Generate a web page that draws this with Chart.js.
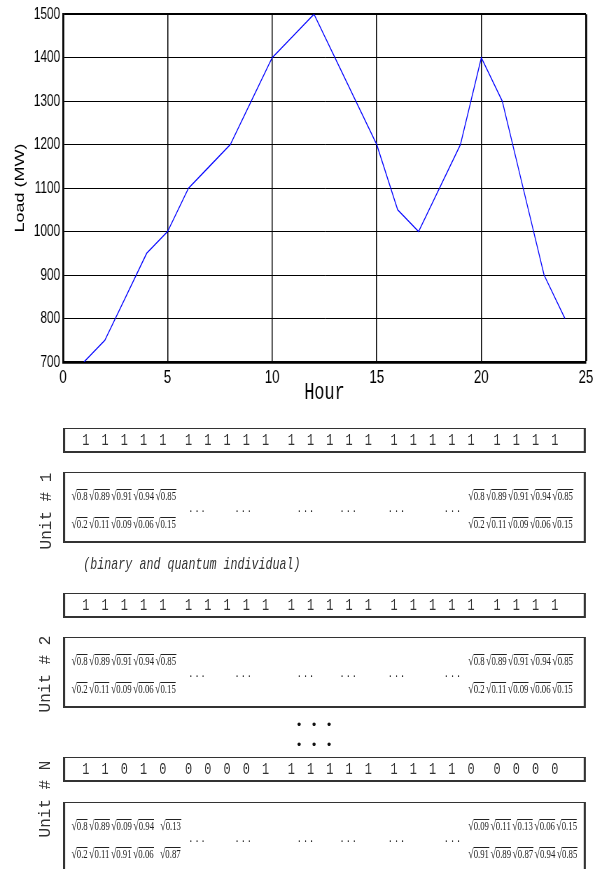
<!DOCTYPE html>
<html>
<head>
<meta charset="utf-8">
<title>Load curve and unit encoding</title>
<script src="https://cdn.jsdelivr.net/npm/chart.js@4.4.0/dist/chart.umd.min.js"></script>
<style>
  html, body { margin: 0; padding: 0; background: #fff; }
  body { width: 600px; height: 869px; position: relative; overflow: hidden; }
  /* the whole figure is squeezed horizontally, so draw it wider and scale it down */
  #stage { position: absolute; left: 0; top: 0; width: 857px; height: 869px;
           transform: scaleX(0.7); transform-origin: 0 0; }
  #chartBox { position: absolute; left: 0; top: 0; width: 857px; height: 410px; }
  .box { position: absolute; left: 90px; width: 747px; box-sizing: border-box;
         border-style: solid; border-color: #333; border-width: 1px 3px 2px 3px; }
  .bin { height: 25px; display: flex; align-items: center; padding-left: 16px;
         font: 17px "Liberation Mono", "Courier New", monospace; color: #333; }
  .bin span { display: inline-block; width: 27.5px; text-align: center; }
  .bin span.g { margin-left: 9.3px; }
  .qbox { height: 71px; }
  .qrow { position: absolute; white-space: nowrap; line-height: 13px; height: 13px;
          font: 12.5px "Liberation Serif", "Times New Roman", serif; color: #222; }
  .r { display: inline-block; margin-right: 2px; }
  .r .rs { display: inline-block; font-size: 14px; line-height: 11px; }
  .r .ov { display: inline-block; border-top: 1px solid #222; line-height: 11px; padding-top: 1px; }
  .r.wide { margin-left: 7px; }
  .dots { position: absolute; width: 40px; margin-left: -20px; text-align: center;
          line-height: 16px; letter-spacing: 5px;
          font: 15px "Liberation Serif", serif; color: #222; }
  .note { position: absolute; left: 119px; top: 555px; white-space: nowrap;
          font: italic 16.7px "Liberation Mono", "Courier New", monospace; color: #333; }
  .unit { position: absolute; white-space: nowrap; transform: translate(-50%, -50%) rotate(-90deg);
          font: 16px "Liberation Mono", "Courier New", monospace; color: #333; }
  .vdots { position: absolute; left: 291.5px; width: 45px; display: flex;
           font: 12px "Liberation Sans", Arial, sans-serif; color: #111; line-height: 12px; }
  .vdots span { width: 15px; text-align: center; }
</style>
</head>
<body>
<div id="stage">
  <div id="chartBox"><canvas id="loadChart"></canvas></div>
</div>
<script>
// hourly load curve (MW)
const hours = [1, 2, 3, 4, 5, 6, 7, 8, 9, 10, 11, 12, 13, 14, 15, 16, 17, 18, 19, 20, 21, 22, 23, 24];
const loads = [700, 750, 850, 950, 1000, 1100, 1150, 1200, 1300, 1400, 1450, 1500,
               1400, 1300, 1200, 1050, 1000, 1100, 1200, 1400, 1300, 1100, 900, 800];

// binary parts of the individuals (24 hours, groups of 5)
const bitsUnit1 = [1,1,1,1,1, 1,1,1,1,1, 1,1,1,1,1, 1,1,1,1,1, 1,1,1,1];
const bitsUnit2 = [1,1,1,1,1, 1,1,1,1,1, 1,1,1,1,1, 1,1,1,1,1, 1,1,1,1];
const bitsUnitN = [1,1,0,1,0, 0,0,0,0,1, 1,1,1,1,1, 1,1,1,1,0, 0,0,0,0];

// quantum parts (values under the square roots)
const qTop = ['0.8', '0.89', '0.91', '0.94', '0.85'];
const qBottom = ['0.2', '0.11', '0.09', '0.06', '0.15'];
const qNLeftTop = ['0.8', '0.89', '0.09', '0.94', '0.13'];
const qNLeftBottom = ['0.2', '0.11', '0.91', '0.06', '0.87'];
const qNRightTop = ['0.09', '0.11', '0.13', '0.06', '0.15'];
const qNRightBottom = ['0.91', '0.89', '0.87', '0.94', '0.85'];

const unitLabels = ['Unit # 1', 'Unit # 2', 'Unit # N'];

function drawChart() {
    const ctx = document.getElementById('loadChart');
    new Chart(ctx, {
        type: 'line',
        data: {
            datasets: [{
                data: hours.map((h, i) => ({ x: h, y: loads[i] })),
                borderColor: '#0000ff',
                borderWidth: 1.3,
                pointRadius: 0,
                tension: 0,
                fill: false
            }]
        },
        options: {
            responsive: true,
            maintainAspectRatio: false,
            animation: false,
            layout: { padding: { top: 14, right: 20, left: 0, bottom: 0 } },
            plugins: { legend: { display: false }, tooltip: { enabled: false } },
            scales: {
                x: {
                    type: 'linear',
                    min: 0, max: 25,
                    afterFit: (s) => { s.height = 48; },
                    ticks: {
                        stepSize: 5,
                        padding: 6,
                        color: '#000',
                        font: { size: 19, family: '"Liberation Sans", Arial, sans-serif', lineHeight: 1 }
                    },
                    grid: {
                        color: '#000',
                        lineWidth: (c) => (c.tick && c.tick.value === 25 ? 2.8 : 1.5),
                        drawTicks: false
                    },
                    border: { color: '#000', width: 2.8 },
                    title: {
                        display: true,
                        text: 'Hour',
                        color: '#000',
                        font: { size: 24, family: '"Liberation Mono", "Courier New", monospace' },
                        padding: { top: 0, bottom: 3 }
                    }
                },
                y: {
                    min: 700, max: 1500,
                    afterFit: (s) => { s.width = 90; },
                    ticks: {
                        stepSize: 100,
                        padding: 4,
                        color: '#000',
                        callback: (v) => String(v),
                        font: { size: 17, family: '"Liberation Sans", Arial, sans-serif' }
                    },
                    grid: {
                        color: '#000',
                        lineWidth: (c) => (c.tick && c.tick.value === 1500 ? 2 : 1),
                        drawTicks: false
                    },
                    border: { color: '#000', width: 2.8 },
                    title: {
                        display: true,
                        text: 'Load (MW)',
                        color: '#000',
                        font: { size: 18, family: '"Liberation Sans", Arial, sans-serif' },
                        padding: { top: 18, bottom: 0 }
                    }
                }
            }
        }
    });
}

// ---- encoding diagram below the chart (coordinates are in the unscaled stage) ----
const stage = document.getElementById('stage');

function binBox(bits, top) {
    const d = document.createElement('div');
    d.className = 'box bin';
    d.style.top = top + 'px';
    d.innerHTML = bits.map((b, i) =>
        `<span class="${i > 0 && i % 5 === 0 ? 'g' : ''}">${b}</span>`).join('');
    stage.appendChild(d);
}

function radRow(vals, wideLast) {
    return vals.map((v, i) =>
        `<span class="r${wideLast && i === vals.length - 1 ? ' wide' : ''}"><span class="rs">√</span><span class="ov">${v}</span></span>`).join('');
}

function quantumBox(top, leftTop, leftBottom, rightTop, rightBottom, wideLast) {
    const d = document.createElement('div');
    d.className = 'box qbox';
    d.style.top = top + 'px';
    let html = '';
    html += `<div class="qrow" style="left:9px;top:16px">${radRow(leftTop, wideLast)}</div>`;
    html += `<div class="qrow" style="left:9px;top:44px">${radRow(leftBottom, wideLast)}</div>`;
    html += `<div class="qrow" style="left:576px;top:16px">${radRow(rightTop, false)}</div>`;
    html += `<div class="qrow" style="left:576px;top:44px">${radRow(rightBottom, false)}</div>`;
    [191, 257, 346, 407, 476, 556].forEach(x => {
        html += `<div class="dots" style="left:${x}px;top:26px">...</div>`;
    });
    d.innerHTML = html;
    stage.appendChild(d);
}

binBox(bitsUnit1, 428);
quantumBox(472, qTop, qBottom, qTop, qBottom, false);
const note = document.createElement('div');
note.className = 'note';
note.textContent = '(binary and quantum individual)';
stage.appendChild(note);

binBox(bitsUnit2, 593);
quantumBox(637, qTop, qBottom, qTop, qBottom, false);

binBox(bitsUnitN, 757);
quantumBox(802, qNLeftTop, qNLeftBottom, qNRightTop, qNRightBottom, true);

// labels that are not squeezed
[[47, 511], [46, 674], [46, 799]].forEach((p, i) => {
    const u = document.createElement('div');
    u.className = 'unit';
    u.style.left = p[0] + 'px';
    u.style.top = p[1] + 'px';
    u.textContent = unitLabels[i];
    document.body.appendChild(u);
});
[719, 739].forEach(t => {
    const v = document.createElement('div');
    v.className = 'vdots';
    v.style.top = t + 'px';
    v.innerHTML = '<span>•</span><span>•</span><span>•</span>';
    document.body.appendChild(v);
});

drawChart();
</script>
</body>
</html>
